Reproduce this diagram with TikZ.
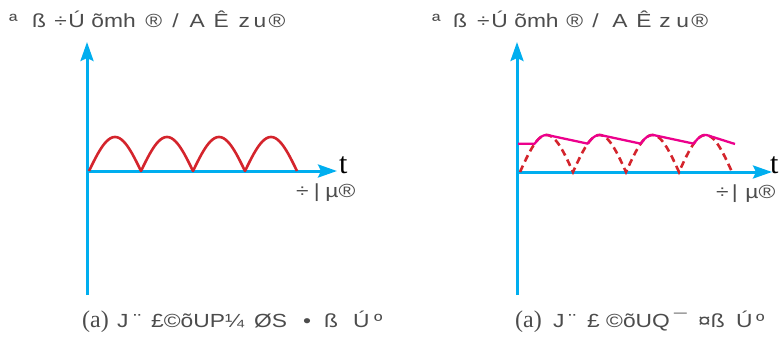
\documentclass[tikz,border=0pt]{standalone}
\usepackage{fontspec}
\setmainfont{Liberation Serif}
\newfontfamily\garbfont[FakeStretch=1.2]{Liberation Sans}
\usepackage{tikz}
\usetikzlibrary{arrows.meta}

\definecolor{axisblue}{RGB}{0,174,239}
\definecolor{wavered}{RGB}{212,36,44}
\definecolor{ripplepink}{RGB}{236,0,140}

\begin{document}
\begin{tikzpicture}[x=1pt, y=-1pt,
      axis/.style={draw=axisblue, line width=3pt, -{Stealth[length=19pt, width=13pt, inset=3pt]}},
      wave/.style={draw=wavered, line width=2.6pt, line join=round},
      halfwave/.style={draw=wavered, line width=2.6pt, dash pattern=on 7pt off 4.5pt},
      ripple/.style={draw=ripplepink, line width=2.3pt, line join=round},
      lbl/.style={inner sep=0pt, anchor=base west, text=black!70, font=\garbfont\fontsize{19}{19}\selectfont},
      tlbl/.style={inner sep=0pt, anchor=base west, font=\fontsize{30}{30}\selectfont}]
      \useasboundingbox (0,0) rectangle (782,337);
      % left: full-wave output
      \coordinate (o1) at (87,171);
      \coordinate (ytop1) at (87,42);
      \coordinate (ybot1) at (87,295);
      \coordinate (xend1) at (337,171);
      \draw[axis] (ybot1) -- (ytop1);
      \draw[axis] (o1) -- (xend1);
      \draw[wave] plot[domain=89:297, samples=121] (\x, {171-34*abs(sin((\x-89)/52*180))});
      \node[lbl] (ylbl1) at (9,28) {ª\hspace{14.6pt}ß\hspace{8.1pt}÷\hspace{1.7pt}Ú\hspace{6.5pt}õmh\hspace{9.7pt}®\hspace{10.2pt}/\hspace{10.7pt}A\hspace{8.8pt}Ê\hspace{9.8pt}z\hspace{3.6pt}u\hspace{2.3pt}®};
      \node[tlbl] (t1) at (339,173) {t};
      \node[lbl] (xlbl1) at (296,197) {÷\hspace{5.2pt}|\hspace{5.6pt}µ®};
      \node[lbl] (cap1) at (82,327) {{\rmfamily\fontsize{24}{24}\selectfont (a)}\hspace{8.4pt}J\hspace{5pt}¨\hspace{10pt}£©õUP¼\hspace{10.1pt}ØS\hspace{16.1pt}•\hspace{13pt}ß\hspace{15.1pt}Ú\hspace{4.5pt}º};
      % right: with smoothing capacitor
      \coordinate (o2) at (517,172);
      \coordinate (ytop2) at (517,42);
      \coordinate (ybot2) at (517,295);
      \coordinate (xend2) at (772,172);
      \draw[axis] (ybot2) -- (ytop2);
      \draw[axis] (o2) -- (xend2);
      \draw[halfwave] plot[domain=520:732, samples=121] (\x, {172-37*abs(sin((\x-520)/53*180))});
      \draw[ripple] (518,143.7)
        -- plot[domain=50:95, samples=10] ({520+\x/180*53}, {172-37*sin(\x)})
        -- plot[domain=50:95, samples=10] ({573+\x/180*53}, {172-37*sin(\x)})
        -- plot[domain=50:95, samples=10] ({626+\x/180*53}, {172-37*sin(\x)})
        -- plot[domain=50:95, samples=10] ({679+\x/180*53}, {172-37*sin(\x)})
        -- (735,144);
      \node[lbl] (ylbl2) at (432,28) {ª\hspace{12.6pt}ß\hspace{10pt}÷\hspace{1.7pt}Ú\hspace{6.5pt}õmh\hspace{7.7pt}®\hspace{9.2pt}/\hspace{13.7pt}A\hspace{8.8pt}Ê\hspace{7.8pt}z\hspace{5.6pt}u\hspace{2.3pt}®};
      \node[tlbl] (t2) at (770,173) {t};
      \node[lbl] (xlbl2) at (716,198) {÷\hspace{3.2pt}|\hspace{7.6pt}µ®};
      \node[lbl] (cap2) at (515,327) {{\rmfamily\fontsize{24}{24}\selectfont (a)}\hspace{11.4pt}J\hspace{4pt}¨\hspace{11pt}£\hspace{6.3pt}©õUQ\hspace{4.3pt}¯\hspace{11.4pt}¤ß\hspace{11.4pt}Ú\hspace{3.5pt}º};
    \end{tikzpicture}
\end{document}
